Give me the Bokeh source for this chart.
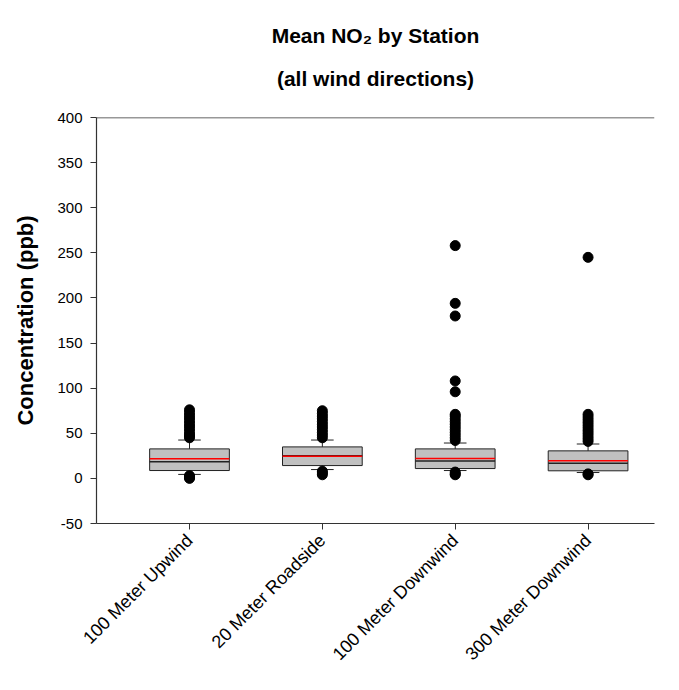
from math import pi
from bokeh.plotting import figure
from bokeh.models import Range1d, FixedTicker, Title, Span
from bokeh.embed import file_html
from bokeh.resources import INLINE

stations = ["100 Meter Upwind", "20 Meter Roadside", "100 Meter Downwind", "300 Meter Downwind"]
positions = [1, 2, 3, 4]
q1 = [8.7, 14.2, 10.9, 8.4]
median = [18.5, 25.0, 19.3, 16.7]
q3 = [32.7, 34.9, 32.7, 30.5]
mean = [21.8, 24.5, 22.1, 19.6]
whisk_lo = [4.4, 9.8, 8.7, 6.5]
whisk_hi = [42.5, 42.5, 39.2, 38.1]
outliers = [
    [0, 1, 2, 3, 45, 47, 49, 52, 55, 58, 61, 64, 67, 70, 73, 76],
    [4, 6, 8, 45, 48, 51, 54, 57, 60, 63, 66, 69, 72, 75],
    [4, 5, 7, 42, 45, 48, 51, 54, 57, 60, 63, 66, 69, 71, 96, 108, 180, 194, 258],
    [4, 5, 41, 44, 47, 50, 53, 56, 59, 62, 65, 68, 71, 245],
]
y_ticks = [-50, 0, 50, 100, 150, 200, 250, 300, 350, 400]
title_lines = ["Mean NO\u2082 by Station", "(all wind directions)"]

FONT = "Liberation Sans"
BW = 0.6
CW = 0.17

p = figure(width=663, height=674, output_backend="svg", toolbar_location=None,
           x_range=Range1d(0.30, 4.50), y_range=Range1d(-50, 400),
           min_border_left=96, min_border_right=9, min_border_top=117, min_border_bottom=144)
p.title = None
p.grid.visible = False
p.outline_line_color = None
p.background_fill_color = "white"
p.border_fill_color = "white"

# top frame line only (no right border in the reference)
p.add_layout(Span(location=y_ticks[-1], dimension="width", line_color="#333333", line_width=1.5))

# subtitle first (closest to the frame), then main title above it
p.add_layout(Title(text=title_lines[1], align="center", offset=8, standoff=56, text_font=FONT,
                   text_font_size="21px", text_font_style="bold", text_color="black"), "above")
p.add_layout(Title(text=title_lines[0], align="center", offset=8, standoff=-20, text_font=FONT,
                   text_font_size="21px", text_font_style="bold", text_color="black"), "above")

left = [x - BW / 2 for x in positions]
right = [x + BW / 2 for x in positions]
p.quad(left=left, right=right, bottom=q1, top=q3, fill_color="#c0c0c0",
       line_color="#222222", line_width=1)
p.segment(x0=left, x1=right, y0=median, y1=median, line_color="#222222", line_width=1.5)
p.segment(x0=left, x1=right, y0=mean, y1=mean, line_color="#ff0000", line_width=1.5)
p.segment(x0=positions, x1=positions, y0=q3, y1=whisk_hi, line_color="#222222", line_width=1)
p.segment(x0=positions, x1=positions, y0=q1, y1=whisk_lo, line_color="#222222", line_width=1)
cl = [x - CW / 2 for x in positions]
cr = [x + CW / 2 for x in positions]
p.segment(x0=cl, x1=cr, y0=whisk_hi, y1=whisk_hi, line_color="#222222", line_width=1)
p.segment(x0=cl, x1=cr, y0=whisk_lo, y1=whisk_lo, line_color="#222222", line_width=1)

ox, oy = [], []
for pos, vals in zip(positions, outliers):
    for v in vals:
        ox.append(pos)
        oy.append(v)
p.scatter(ox, oy, size=10, marker="circle", fill_color="black", line_color="black")

p.yaxis.ticker = FixedTicker(ticks=y_ticks)
p.yaxis.major_label_overrides = {t: str(t) for t in y_ticks}
p.xaxis.ticker = FixedTicker(ticks=positions)
p.xaxis.major_label_overrides = {pos: s for pos, s in zip(positions, stations)}
p.xaxis.major_label_orientation = pi / 4
p.yaxis.axis_label = "Concentration (ppb)"
for ax in (p.xaxis, p.yaxis):
    ax.axis_line_color = "#333333"
    ax.axis_line_width = 1.2
    ax.major_tick_line_color = "#333333"
    ax.minor_tick_line_color = None
    ax.major_tick_out = 6
    ax.major_tick_in = 0
    ax.major_label_text_font = FONT
    ax.major_label_text_color = "black"
p.yaxis.major_label_text_font_size = "15px"
p.xaxis.major_label_text_font_size = "18px"
p.yaxis.major_label_standoff = 8
p.xaxis.major_label_standoff = 8
p.yaxis.axis_label_text_font = FONT
p.yaxis.axis_label_text_font_size = "22px"
p.yaxis.axis_label_text_font_style = "bold"
p.yaxis.axis_label_text_color = "black"
p.yaxis.axis_label_standoff = 16

open("out.html", "w").write(file_html(p, INLINE))
